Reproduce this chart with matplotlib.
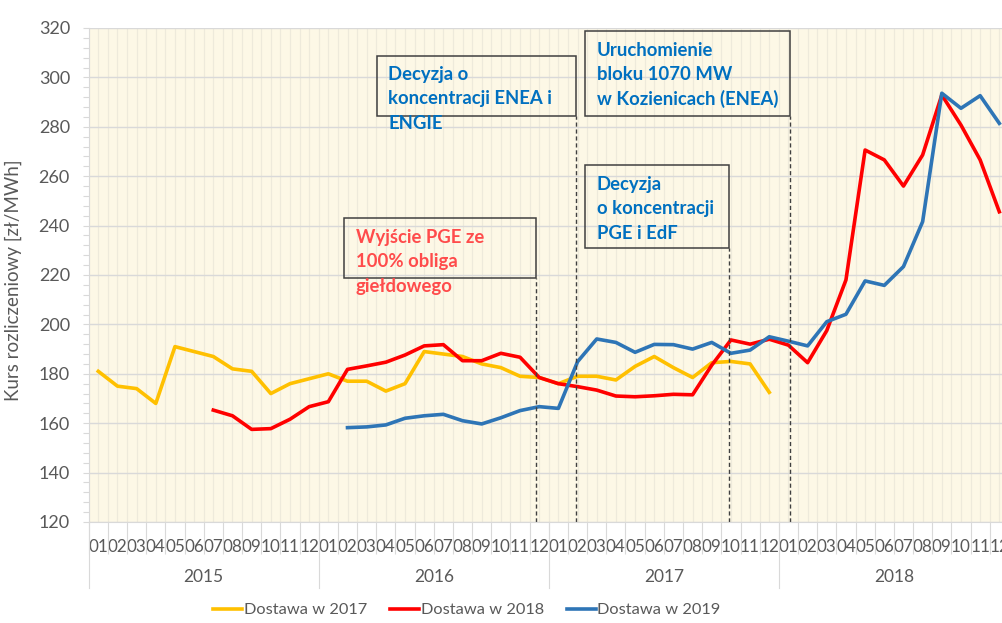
import numpy as np
import matplotlib
matplotlib.use('Agg')
import matplotlib.pyplot as plt
import matplotlib.transforms as mtransforms
from matplotlib.patches import Rectangle

plt.rcParams['font.family'] = ['Lato', 'DejaVu Sans']

# months 2015-01 .. 2018-12
years = ['2015', '2016', '2017', '2018']
months = ['01', '02', '03', '04', '05', '06', '07', '08', '09', '10', '11', '12']
month_labels = months * len(years)

# Dostawa w 2017: 2015-01 .. 2017-12
dostawa_2017 = [181, 175, 174, 168, 191, 189, 187, 182, 181, 172, 176, 178,
                180, 177, 177, 173, 176, 189, 188, 187, 184, 182.5, 179, 178.5,
                176, 179, 179, 177.5, 183, 187, 182.5, 178.5, 184.5, 185, 184, 172.5]
start_2017 = 0

# Dostawa w 2018: 2015-07 .. 2018-12
dostawa_2018 = [165.3, 163, 157.5, 157.8, 161.6, 166.7,
                168.7, 181.8, 183.2, 184.7, 187.6, 191.3, 191.8, 185.3, 185.3, 188.3, 186.7, 178.5,
                176, 174.8, 173.4, 171, 170.7, 171.1, 171.7, 171.5, 183.5, 193.7, 192, 194,
                191.6, 184.5, 197.5, 218, 270.6, 266.6, 256, 268.6, 292.9, 280.7, 266.6, 245.6]
start_2018 = 6

# Dostawa w 2019: 2016-02 .. 2018-12
dostawa_2019 = [158.2, 158.5, 159.3, 162, 163, 163.6, 161, 159.7, 162.2, 165.1, 166.7,
                166, 184.9, 194.1, 192.7, 188.7, 191.9, 191.8, 190, 192.7, 188.3, 189.6, 195,
                193.2, 191.3, 201.1, 204.1, 217.6, 215.8, 223.4, 241.6, 293.6, 287.5, 292.6, 281.4]
start_2019 = 13

GRAY = '#595959'
LIGHT = '#D9D9D9'

fig = plt.figure(figsize=(10.03, 6.23), dpi=100)
ax = fig.add_axes([88.7 / 1003, 1 - 522 / 623, 920.2 / 1003, 494 / 623])
ax.set_facecolor('#FDF8E6')
ax.set_axisbelow(True)

x = np.arange(len(month_labels))
ax.plot(x[start_2017:start_2017 + len(dostawa_2017)], dostawa_2017, color='#FFC000', lw=2.6, label='Dostawa w 2017')
ax.plot(x[start_2018:start_2018 + len(dostawa_2018)], dostawa_2018, color='#FF0000', lw=2.6, label='Dostawa w 2018')
ax.plot(x[start_2019:start_2019 + len(dostawa_2019)], dostawa_2019, color='#2E75B6', lw=2.6, label='Dostawa w 2019')

ax.set_xlim(-0.5, len(month_labels) - 0.5)
ax.set_ylim(120, 320)

# x axis: month labels, separators as minor ticks
ax.set_xticks(x)
ax.set_xticklabels(month_labels)
ax.set_xticks(np.arange(-0.5, len(month_labels), 1.0), minor=True)
ax.tick_params(axis='x', which='major', length=0, pad=12.5, labelsize=12.3, labelcolor=GRAY)
ax.tick_params(axis='x', which='minor', length=23, width=0.8, color=LIGHT, direction='out')
ax.grid(axis='x', which='both', color='#EEEADB', lw=0.9)

# y axis
ax.set_yticks(np.arange(120, 321, 20))
ax.set_yticks(np.arange(120, 321, 4), minor=True)
ax.tick_params(axis='y', which='both', length=4.5, width=0.8, color=LIGHT, pad=9, labelsize=13, labelcolor=GRAY)
ax.grid(axis='y', which='major', color=LIGHT, lw=1)
ax.set_ylabel('Kurs rozliczeniowy [zł/MWh]', color=GRAY, fontsize=13.5)
ax.yaxis.set_label_coords(-0.0725, 0.49)

for s in ['top', 'right']:
    ax.spines[s].set_visible(False)
for s in ['left', 'bottom']:
    ax.spines[s].set_color(LIGHT)

# year groups
trans = mtransforms.blended_transform_factory(ax.transData, ax.transAxes)
for i, yr in enumerate(years):
    ax.plot([12 * i - 0.5] * 2, [0, -0.133], transform=trans, clip_on=False, color=LIGHT, lw=0.8)
    ax.text(12 * i + 5.5, -0.111, yr, transform=trans, ha='center', va='center', fontsize=12.5, color=GRAY)
ax.plot([47.5] * 2, [0, -0.133], transform=trans, clip_on=False, color=LIGHT, lw=0.8)

# event annotations: dashed line, box, text lines (first baseline + step)
line_step = 9.9
events = [
    dict(xline=22.83, box=(12.83, 218.7, 10.0, 24.3), tx=13.44, ty=233.0,
         lines=['Wyjście PGE ze', '100% obliga', 'giełdowego'], color='#FF4B4B'),
    dict(xline=24.92, box=(14.54, 284.5, 10.38, 24.3), tx=15.13, ty=299.0,
         lines=['Decyzja o', 'koncentracji ENEA i', 'ENGIE'], color='#0070C0'),
    dict(xline=36.08, box=(25.4, 284.5, 10.68, 34.3), tx=26.0, ty=308.7,
         lines=['Uruchomienie', 'bloku 1070 MW', 'w Kozienicach (ENEA)'], color='#0070C0'),
    dict(xline=32.9, box=(25.4, 230.8, 7.5, 33.7), tx=26.0, ty=254.4,
         lines=['Decyzja', 'o koncentracji', 'PGE i EdF'], color='#0070C0'),
]
for ev in events:
    bx, by, bw, bh = ev['box']
    ax.vlines(ev['xline'], 120, by, colors='#404040', linestyles=(0, (3, 2)), lw=1)
    ax.add_patch(Rectangle((bx, by), bw, bh, fill=False, edgecolor='#404040', lw=1.1, zorder=3))
    for k, line in enumerate(ev['lines']):
        ax.text(ev['tx'], ev['ty'] - k * line_step, line, color=ev['color'], fontsize=13.3,
                fontweight='bold', ha='left', va='baseline', zorder=4)

handles, labels = ax.get_legend_handles_labels()
leg = fig.legend(handles, labels, loc='center', bbox_to_anchor=(467 / 1003, 1 - 610 / 623), ncol=3,
                 frameon=False, fontsize=11.8, handlelength=1.75, handletextpad=0.12, columnspacing=1.4)
for t in leg.get_texts():
    t.set_color(GRAY)

fig.savefig('out.png', dpi=100, facecolor='white')
